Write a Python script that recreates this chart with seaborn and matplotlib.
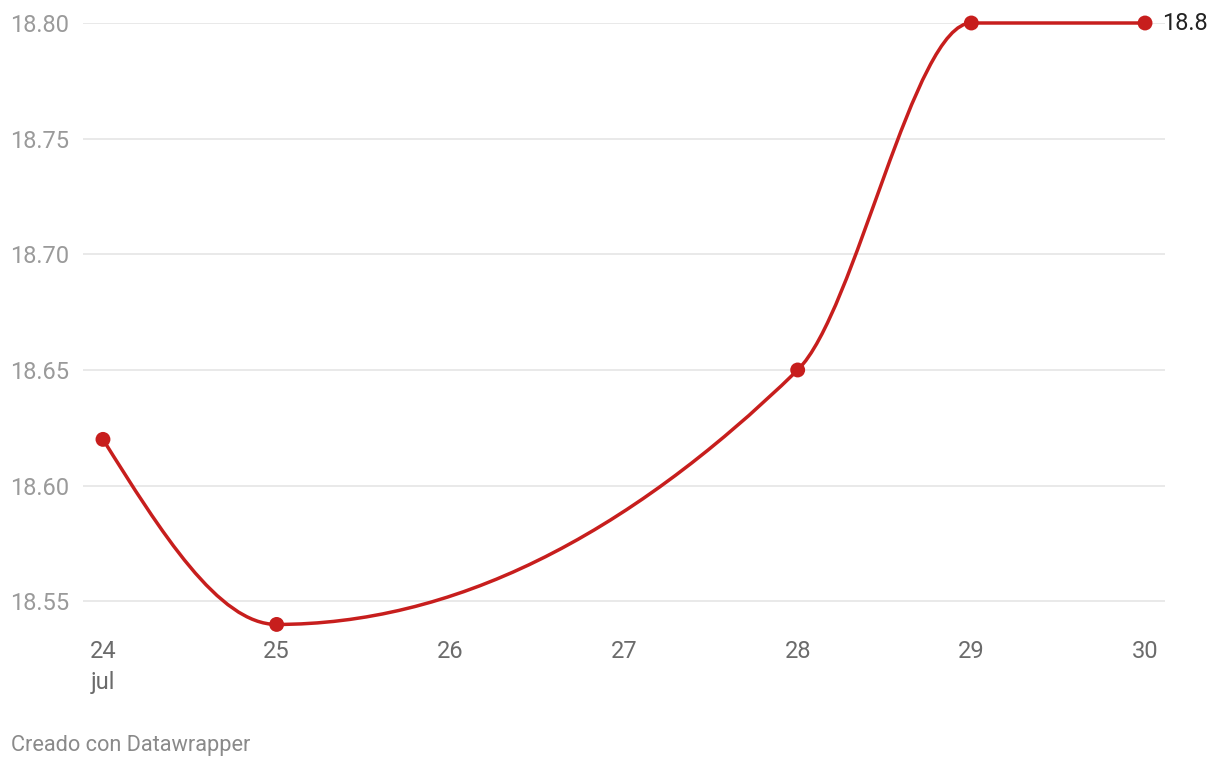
import numpy as np
import matplotlib
matplotlib.use("Agg")
import matplotlib.pyplot as plt
import seaborn as sns
from matplotlib.path import Path
from matplotlib.patches import PathPatch

# ---- data ----
days = [24, 25, 28, 29, 30]
values = [18.62, 18.54, 18.65, 18.80, 18.80]
xtick_vals = [24, 25, 26, 27, 28, 29, 30]
xtick_labels = ["24\njul", "25", "26", "27", "28", "29", "30"]
ytick_vals = [18.55, 18.60, 18.65, 18.70, 18.75, 18.80]
ytick_labels = ["18.55", "18.60", "18.65", "18.70", "18.75", "18.80"]
end_label = "18.8"
footer = "Creado con Datawrapper"

RED = "#c71e1d"

sns.set_theme(style="white")
plt.rcParams["font.family"] = ["Roboto", "DejaVu Sans"]

W, H = 1220, 770
fig = plt.figure(figsize=(W / 100, H / 100), dpi=100)
ax = fig.add_axes([83 / W, 1 - 636 / H, (1165 - 83) / W, (636 - 23) / H])
ax.set_xlim(23.885, 30.115)
ax.set_ylim(18.535, 18.80)


def monotone_path(xs, ys):
    """Monotone cubic (d3 curveMonotoneX style) path through the given points."""
    xs = np.asarray(xs, float)
    ys = np.asarray(ys, float)
    n = len(xs)
    t = np.zeros(n)
    for i in range(1, n - 1):
        h0 = xs[i] - xs[i - 1]
        h1 = xs[i + 1] - xs[i]
        s0 = (ys[i] - ys[i - 1]) / h0
        s1 = (ys[i + 1] - ys[i]) / h1
        p = (s0 * h1 + s1 * h0) / (h0 + h1)
        t[i] = (np.sign(s0) + np.sign(s1)) * min(abs(s0), abs(s1), 0.5 * abs(p))
    h = xs[1] - xs[0]
    t[0] = (3 * (ys[1] - ys[0]) / h - t[1]) / 2
    h = xs[-1] - xs[-2]
    t[-1] = (3 * (ys[-1] - ys[-2]) / h - t[-2]) / 2
    verts = [(xs[0], ys[0])]
    codes = [Path.MOVETO]
    for i in range(n - 1):
        dx = (xs[i + 1] - xs[i]) / 3
        verts += [(xs[i] + dx, ys[i] + dx * t[i]),
                  (xs[i + 1] - dx, ys[i + 1] - dx * t[i + 1]),
                  (xs[i + 1], ys[i + 1])]
        codes += [Path.CURVE4] * 3
    return Path(verts, codes)


# gridlines
for yv in ytick_vals:
    ax.axhline(yv, color="#e3e3e3", lw=1.1, zorder=1)

patch = PathPatch(monotone_path(days, values), facecolor="none", edgecolor=RED,
                  lw=2.5, zorder=3, clip_on=False, capstyle="round", joinstyle="round")
ax.add_patch(patch)
sns.scatterplot(x=days, y=values, ax=ax, color=RED, s=115, edgecolor="none",
                zorder=4, clip_on=False, legend=False)

ax.set_xticks(xtick_vals)
ax.set_xticklabels(xtick_labels, fontsize=17, color="#6b6b6b", linespacing=1.45,
                   va="top")
ax.set_yticks(ytick_vals)
ax.set_yticklabels(ytick_labels, fontsize=17, color="#9a9a9a")
for lbl in ax.get_yticklabels():
    lbl.set_ha("left")
ax.tick_params(axis="y", length=0, pad=(83 - 10) * 0.72)
ax.tick_params(axis="x", length=0, pad=3)
for s in ax.spines.values():
    s.set_visible(False)
ax.grid(False)
ax.set_xlabel("")
ax.set_ylabel("")

ax.annotate(end_label, xy=(days[-1], values[-1]), xytext=(12, 0),
            textcoords="offset points", ha="left", va="center",
            fontsize=17, color="#222222", annotation_clip=False)

fig.text(11 / W, 1 - 746 / H, footer, fontsize=15.7, color="#8a8a8a",
         ha="left", va="center")

fig.savefig("out.png", dpi=100, facecolor="white")
